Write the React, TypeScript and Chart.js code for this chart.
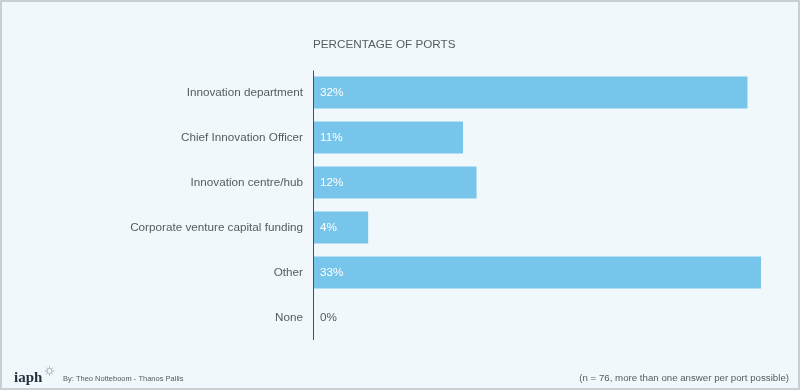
import React, { useEffect, useRef } from "react";
import { Chart, registerables } from "chart.js";

Chart.register(...registerables);

const categories = [
  "Innovation department",
  "Chief Innovation Officer",
  "Innovation centre/hub",
  "Corporate venture capital funding",
  "Other",
  "None",
];
const values = [32, 11, 12, 4, 33, 0];
const valueLabels = ["32%", "11%", "12%", "4%", "33%", "0%"];
const titleText = "PERCENTAGE OF PORTS";
const creditText = "By: Theo Notteboom - Thanos Pallis";
const noteText = "(n = 76, more than one answer per port possible)";
const logoText = "iaph";

const FONT = "'Liberation Sans', Arial, sans-serif";
const GRAY = "#555b60";
const SIZE = 11.7;

const decorPlugin = {
  id: "decor",
  beforeDraw(chart: any) {
    const { ctx, width, height } = chart;
    ctx.save();
    ctx.fillStyle = "#f1f8fc";
    ctx.fillRect(0, 0, width, height);
    ctx.strokeStyle = "#c8d0d4";
    ctx.lineWidth = 2;
    ctx.strokeRect(1, 1, width - 2, height - 2);
    ctx.restore();
  },
  afterDraw(chart: any) {
    const { ctx, chartArea } = chart;
    ctx.save();
    // axis line
    ctx.strokeStyle = "#4a4f54";
    ctx.lineWidth = 1;
    ctx.beginPath();
    ctx.moveTo(chartArea.left - 0.5, chartArea.top + 0.5);
    ctx.lineTo(chartArea.left - 0.5, chartArea.bottom);
    ctx.stroke();
    // title
    ctx.fillStyle = GRAY;
    ctx.font = SIZE + "px " + FONT;
    ctx.textAlign = "left";
    ctx.textBaseline = "middle";
    ctx.fillText(titleText, chartArea.left - 1, 45);
    // logo
    ctx.fillStyle = "#26323d";
    ctx.font = "bold 15px 'Liberation Serif', serif";
    ctx.textBaseline = "alphabetic";
    ctx.fillText(logoText, 14, 382);
    // gear icon
    ctx.strokeStyle = "#a9b3ba";
    ctx.lineWidth = 1;
    const cx = 49.5, cy = 371, r = 2.6;
    ctx.beginPath();
    ctx.arc(cx, cy, r, 0, Math.PI * 2);
    ctx.stroke();
    for (let i = 0; i < 8; i++) {
      const a = (i * Math.PI) / 4;
      ctx.beginPath();
      ctx.moveTo(cx + Math.cos(a) * (r + 0.6), cy + Math.sin(a) * (r + 0.6));
      ctx.lineTo(cx + Math.cos(a) * (r + 2.2), cy + Math.sin(a) * (r + 2.2));
      ctx.stroke();
    }
    // credit
    ctx.fillStyle = GRAY;
    ctx.font = "7.5px " + FONT;
    ctx.textBaseline = "middle";
    ctx.fillText(creditText, 63, 379);
    // note
    ctx.font = "9.7px " + FONT;
    ctx.textAlign = "right";
    ctx.fillText(noteText, 789, 378);
    ctx.restore();
  },
  afterDatasetsDraw(chart: any) {
    const { ctx, chartArea } = chart;
    const meta = chart.getDatasetMeta(0);
    ctx.save();
    ctx.font = SIZE + "px " + FONT;
    ctx.textAlign = "left";
    ctx.textBaseline = "middle";
    meta.data.forEach((bar: any, i: number) => {
      ctx.fillStyle = values[i] > 0 ? "#ffffff" : GRAY;
      ctx.fillText(valueLabels[i], chartArea.left + 6, bar.y + 0.5);
    });
    ctx.restore();
  },
};

export default function App() {
  const ref = useRef<HTMLCanvasElement>(null);
  useEffect(() => {
    document.body.style.margin = "0";
    const chart = new Chart(ref.current!, {
      type: "bar",
      data: {
        labels: categories,
        datasets: [
          {
            data: values,
            backgroundColor: "#78c5eb",
            borderWidth: 0,
            categoryPercentage: 1,
            barPercentage: 32 / 45,
          },
        ],
      },
      options: {
        indexAxis: "y",
        animation: false,
        responsive: false,
        devicePixelRatio: 1,
        layout: { padding: { top: 70, bottom: 50, left: 0, right: 39 } },
        plugins: {
          legend: { display: false },
          tooltip: { enabled: false },
        },
        scales: {
          x: { display: false, min: 0, max: 33 },
          y: {
            grid: { display: false, drawTicks: false },
            border: { display: false },
            ticks: {
              color: GRAY,
              font: { family: FONT, size: SIZE },
              padding: 11,
            },
            afterFit(scale: any) {
              scale.width = 314;
            },
          },
        },
      },
      plugins: [decorPlugin],
    });
    return () => chart.destroy();
  }, []);
  return (
    <div style={{ width: 800, height: 390 }}>
      <canvas ref={ref} width={800} height={390} />
    </div>
  );
}
